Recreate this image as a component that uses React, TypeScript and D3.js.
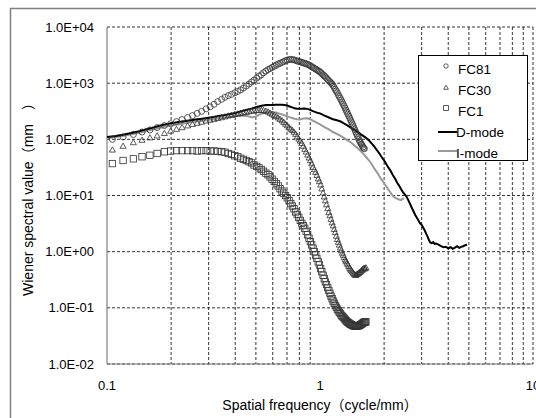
import React from "react";
import * as d3 from "d3";

// Spatial frequency sampling of the measured (marker) series, cycle/mm
const freqs = [
  0.106, 0.119, 0.133, 0.146, 0.159, 0.172, 0.186, 0.199, 0.212, 0.225, 0.239, 0.252, 0.265, 0.278, 0.292, 0.305,
  0.318, 0.331, 0.345, 0.358, 0.371, 0.384, 0.398, 0.411, 0.424, 0.437, 0.451, 0.464, 0.477, 0.49, 0.504, 0.517,
  0.53, 0.543, 0.557, 0.57, 0.583, 0.596, 0.61, 0.623, 0.636, 0.649, 0.663, 0.676, 0.689, 0.702, 0.716, 0.729,
  0.742, 0.755, 0.769, 0.782, 0.795, 0.808, 0.822, 0.835, 0.848, 0.861, 0.875, 0.888, 0.901, 0.914, 0.928, 0.941,
  0.954, 0.967, 0.981, 0.994, 1.007, 1.02, 1.034, 1.047, 1.06, 1.073, 1.087, 1.1, 1.113, 1.126, 1.14, 1.153,
  1.166, 1.179, 1.193, 1.206, 1.219, 1.232, 1.246, 1.259, 1.272, 1.285, 1.299, 1.312, 1.325, 1.338, 1.352, 1.365,
  1.378, 1.391, 1.405, 1.418, 1.431, 1.444, 1.458, 1.471, 1.484, 1.497, 1.511, 1.524, 1.537, 1.55, 1.564, 1.577,
  1.59, 1.603, 1.617, 1.63, 1.643,
];

const fc81 = [
  100, 110, 122, 135, 147, 162, 176, 190, 207, 225, 245, 265, 290, 315, 350, 380,
  420, 470, 515, 560, 600, 630, 675, 715, 760, 820, 890, 965, 1050, 1135, 1230, 1320,
  1410, 1530, 1640, 1740, 1820, 1905, 2000, 2090, 2190, 2260, 2340, 2430, 2510, 2570, 2630, 2660,
  2630, 2600, 2540, 2480, 2430, 2400, 2340, 2290, 2260, 2210, 2160, 2110, 2040, 1970, 1905, 1840,
  1780, 1720, 1660, 1620, 1550, 1480, 1410, 1350, 1290, 1230, 1160, 1110, 1060, 1010, 965, 900,
  840, 775, 725, 675, 620, 575, 535, 495, 457, 422, 390, 360, 330, 305, 282, 260,
  240, 221, 204, 188, 174, 160, 148, 136, 126, 116, 107, 99, 92, 87, 82, 78,
  73, 70, 68,
];

const fc30 = [
  65, 76, 88, 97, 107, 116, 128, 141, 152, 163, 175, 186, 195, 204, 214, 221,
  229, 237, 245, 254, 263, 270, 279, 285, 292, 299, 305, 313, 320, 324, 327, 331,
  331, 327, 320, 309, 295, 282, 269, 257, 243, 229, 216, 202, 188, 176, 162, 153,
  145, 135, 124, 112, 102, 94, 85, 76, 67, 60, 53, 47, 42, 37, 32, 29,
  26, 23, 20, 17.8, 15.5, 13.2, 11.2, 9.5, 8.1, 6.9, 5.9, 5.0, 4.4, 3.8, 3.3, 2.9,
  2.5, 2.2, 1.9, 1.66, 1.48, 1.32, 1.17, 1.05, 0.95, 0.87, 0.79, 0.72, 0.68, 0.63, 0.59, 0.55,
  0.51, 0.48, 0.46, 0.44, 0.42, 0.4, 0.39, 0.38, 0.39, 0.4, 0.41, 0.42, 0.43, 0.44, 0.46, 0.47,
  0.49, 0.5, 0.51, 0.5, 0.52,
];

const fc1 = [
  37, 42, 45, 49, 52, 56, 60, 62, 63, 63, 63, 63, 62, 63, 63, 62,
  62, 61, 60, 59, 56, 54, 51, 49, 46, 44, 42, 40, 38, 35, 33, 31,
  29, 27, 25, 23.4, 21.4, 19.5, 17.8, 16.2, 14.8, 13.2, 12.0, 11.0, 10.0, 9.1, 8.1, 7.2,
  6.5, 5.8, 5.1, 4.6, 4.1, 3.6, 3.2, 2.9, 2.6, 2.3, 2.0, 1.74, 1.51, 1.32, 1.15, 1.0,
  0.87, 0.76, 0.66, 0.58, 0.5, 0.44, 0.38, 0.33, 0.29, 0.26, 0.23, 0.204, 0.182, 0.162, 0.145, 0.132,
  0.12, 0.11, 0.102, 0.095, 0.089, 0.083, 0.079, 0.074, 0.071, 0.068, 0.065, 0.062, 0.059, 0.057, 0.055, 0.054,
  0.052, 0.051, 0.05, 0.049, 0.048, 0.048, 0.047, 0.047, 0.047, 0.047, 0.048, 0.048, 0.049, 0.05, 0.051, 0.052,
  0.054, 0.055, 0.056, 0.055, 0.057,
];

// [frequency, value] pairs for the two continuous curves
const dMode: [number, number][] = [
  [0.1, 110], [0.11, 115], [0.12, 122], [0.13, 130], [0.14, 138], [0.15, 148], [0.16, 158], [0.17, 168], [0.18, 178], [0.19, 186],
  [0.2, 194], [0.22, 205], [0.24, 215], [0.26, 225], [0.28, 233], [0.3, 242], [0.32, 252], [0.34, 262], [0.36, 272], [0.38, 283],
  [0.4, 295], [0.42, 310], [0.44, 325], [0.46, 340], [0.48, 355], [0.5, 372], [0.52, 388], [0.54, 400], [0.56, 408], [0.58, 410],
  [0.6, 410], [0.62, 412], [0.64, 414], [0.66, 412], [0.68, 410], [0.7, 400], [0.72, 385], [0.74, 370], [0.76, 358], [0.78, 352],
  [0.8, 350], [0.82, 352], [0.84, 355], [0.86, 352], [0.88, 345], [0.9, 335], [0.92, 322], [0.94, 312], [0.96, 302], [0.98, 294],
  [1.0, 290], [1.05, 265], [1.1, 245], [1.15, 228], [1.2, 218], [1.25, 208], [1.3, 190], [1.35, 175], [1.4, 160], [1.45, 148],
  [1.5, 136], [1.55, 124], [1.6, 114], [1.65, 105], [1.7, 95], [1.75, 84], [1.8, 74], [1.85, 64], [1.9, 56], [1.95, 48],
  [2.0, 42], [2.05, 36], [2.1, 31], [2.15, 27], [2.2, 23], [2.25, 20], [2.3, 17], [2.35, 15], [2.4, 13], [2.45, 11.5],
  [2.5, 10.5], [2.55, 9.5], [2.6, 8.2], [2.65, 7.0], [2.7, 6.0], [2.75, 5.2], [2.8, 4.5], [2.85, 4.0], [2.9, 3.6], [2.95, 3.2],
  [3.0, 3.0], [3.05, 2.7], [3.1, 2.4], [3.15, 2.1], [3.2, 1.85], [3.25, 1.6], [3.3, 1.45], [3.35, 1.42], [3.4, 1.48], [3.45, 1.38],
  [3.5, 1.4], [3.6, 1.33], [3.7, 1.25], [3.8, 1.2], [3.9, 1.22], [4.0, 1.15], [4.1, 1.2], [4.2, 1.12], [4.3, 1.18], [4.4, 1.25],
  [4.5, 1.17], [4.6, 1.22], [4.7, 1.25], [4.8, 1.3], [4.9, 1.33],
];

const iMode: [number, number][] = [
  [0.1, 105], [0.11, 110], [0.12, 116], [0.13, 123], [0.14, 130], [0.15, 138], [0.16, 146], [0.17, 154], [0.18, 162], [0.19, 170],
  [0.2, 176], [0.22, 188], [0.24, 198], [0.26, 207], [0.28, 215], [0.3, 222], [0.32, 230], [0.34, 238], [0.36, 246], [0.38, 252],
  [0.4, 258], [0.42, 262], [0.44, 265], [0.46, 258], [0.48, 245], [0.5, 255], [0.52, 275], [0.54, 290], [0.56, 300], [0.58, 305],
  [0.6, 308], [0.62, 300], [0.64, 290], [0.66, 280], [0.68, 268], [0.7, 258], [0.72, 248], [0.74, 240], [0.76, 232], [0.78, 228],
  [0.8, 226], [0.82, 230], [0.84, 236], [0.86, 238], [0.88, 235], [0.9, 228], [0.92, 218], [0.94, 208], [0.96, 200], [0.98, 192],
  [1.0, 185], [1.05, 165], [1.1, 150], [1.15, 135], [1.2, 125], [1.25, 115], [1.3, 105], [1.35, 95], [1.4, 88], [1.45, 78],
  [1.5, 70], [1.55, 62], [1.6, 55], [1.65, 48], [1.7, 42], [1.75, 36], [1.8, 30], [1.85, 26], [1.9, 22], [1.95, 19],
  [2.0, 16.5], [2.05, 14.5], [2.1, 12.5], [2.15, 11], [2.2, 9.8], [2.25, 9.2], [2.3, 8.8], [2.35, 8.5], [2.4, 8.3], [2.45, 8.8],
  [2.48, 9.0],
];

const yTicks = [1e-2, 1e-1, 1, 10, 100, 1000, 10000];
const yTickLabels = ["1.0E-02", "1.0E-01", "1.0E+00", "1.0E+01", "1.0E+02", "1.0E+03", "1.0E+04"];
const xTicks = [0.1, 1, 10];
const xTickLabels = ["0.1", "1", "10"];
const xGrid = [0.2, 0.3, 0.4, 0.5, 0.6, 0.7, 0.8, 0.9, 2, 3, 4, 5, 6, 7, 8, 9, 10];
const legendLabels = ["FC81", "FC30", "FC1", "D-mode", "I-mode"];

const FONT = "'Liberation Sans', Arial, 'Noto Sans CJK JP', sans-serif";

export default function App() {
  const W = 536, H = 418;
  const x = d3.scaleLog().domain([0.1, 10]).range([107, 533]);
  const y = d3.scaleLog().domain([0.01, 10000]).range([364, 27]);
  const line = d3.line<[number, number]>().x((d) => x(d[0])).y((d) => y(d[1]));

  const mk = "#333";
  const circle = (cx: number, cy: number, r: number, k: string) => (
    <circle key={k} cx={cx} cy={cy} r={r} fill="none" stroke={mk} strokeWidth={0.8} />
  );
  const tri = (cx: number, cy: number, s: number, k: string) => (
    <path key={k} d={`M${cx},${cy - s}L${cx + s},${cy + s * 0.75}L${cx - s},${cy + s * 0.75}Z`} fill="none" stroke={mk} strokeWidth={0.8} />
  );
  const sq = (cx: number, cy: number, s: number, k: string) => (
    <rect key={k} x={cx - s} y={cy - s} width={2 * s} height={2 * s} fill="none" stroke={mk} strokeWidth={0.8} />
  );

  const [x0, x1] = x.range();
  const [yb, yt] = y.range();

  return (
    <svg width={W} height={H} style={{ position: "absolute", left: 0, top: 0, background: "#fff" }} fontFamily={FONT}>
      <rect x={0} y={0} width={W} height={H} fill="#fff" />
      {/* outer chart frame */}
      <path d={`M10.5,${H + 5}V8.5H${W + 5}`} fill="none" stroke="#808080" strokeWidth={1.5} />

      {/* grid */}
      {yTicks.map((t) => (
        <line key={"gy" + t} x1={x0} x2={x1} y1={y(t)} y2={y(t)} stroke="#000" strokeWidth={0.8} strokeDasharray="3,2" />
      ))}
      {xGrid.map((t) => (
        <line key={"gx" + t} x1={x(t)} x2={x(t)} y1={yt} y2={yb} stroke="#000" strokeWidth={0.8} strokeDasharray="3,2" />
      ))}
      {/* axes */}
      <line x1={x0} x2={x0} y1={yt} y2={yb} stroke="#808080" strokeWidth={1.2} />
      <line x1={x0} x2={x1} y1={yb} y2={yb} stroke="#808080" strokeWidth={1.2} />

      {/* tick labels */}
      {yTicks.map((t, i) => (
        <text key={"ty" + t} x={94} y={y(t)} dy="0.35em" textAnchor="end" fontSize={13} fill="#000">
          {yTickLabels[i]}
        </text>
      ))}
      {xTicks.map((t, i) => (
        <text key={"tx" + t} x={x(t)} y={390} textAnchor="middle" fontSize={13} fill="#000">
          {xTickLabels[i]}
        </text>
      ))}

      {/* axis titles */}
      <text x={320} y={410} textAnchor="middle" fontSize={14} fill="#000">
        Spatial frequency（cycle/mm）
      </text>
      <text transform="translate(33,196) rotate(-90)" textAnchor="middle" fontSize={14} fill="#000">
        Wiener spectral value（mm　）
      </text>

      {/* curves */}
      <path d={line(iMode) || ""} fill="none" stroke="#999" strokeWidth={2} />
      <path d={line(dMode) || ""} fill="none" stroke="#000" strokeWidth={2} />

      {/* markers */}
      {fc81.map((v, i) => circle(x(freqs[i]), y(v), 3, "c" + i))}
      {fc30.map((v, i) => tri(x(freqs[i]), y(v), 3, "t" + i))}
      {fc1.map((v, i) => sq(x(freqs[i]), y(v), 3.2, "s" + i))}

      {/* legend */}
      <rect x={418.5} y={55.5} width={109} height={105} fill="#fff" stroke="#000" strokeWidth={1} />
      {circle(446, 66, 2.2, "lc")}
      {tri(446, 87.5, 2.4, "lt")}
      {sq(446, 108, 2.4, "ls")}
      <line x1={438} x2={457} y1={132} y2={132} stroke="#000" strokeWidth={2} />
      <line x1={438} x2={457} y1={151} y2={151} stroke="#999" strokeWidth={2} />
      {legendLabels.map((l, i) => (
        <text key={l} x={i < 3 ? 458 : 456} y={74 + i * 21} fontSize={13.5} fill="#000">
          {l}
        </text>
      ))}
    </svg>
  );
}
